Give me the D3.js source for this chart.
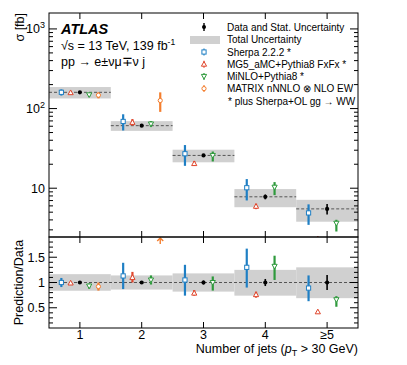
<!DOCTYPE html>
<html>
<head>
<meta charset="utf-8">
<script src="https://cdn.jsdelivr.net/npm/d3@7"></script>
<style>
  body { margin: 0; background: #fff; }
  svg { font-family: "Liberation Sans", Arial, sans-serif; }
</style>
</head>
<body>
<svg width="407" height="365"></svg>
<script>
// bins of jet multiplicity
const bins = [1, 2, 3, 4, 5];
const binLabels = ["1", "2", "3", "4", "≥5"];

// measured cross sections [fb] and stat. uncertainty (relative)
const dataXs = [160, 61, 25.8, 7.8, 5.5];
const dataStat = [0.02, 0.03, 0.04, 0.07, 0.15];

// total uncertainty band (relative to data)
const totHi = [1.165, 1.14, 1.18, 1.25, 1.30];
const totLo = [0.837, 0.86, 0.82, 0.74, 0.69];

// predictions as ratio to data, with up/down errors
const sherpaRatio = [1.00, 1.13, 1.05, 1.30, 0.89];
const sherpaUp = [0.09, 0.26, 0.30, 0.37, 0.25];
const sherpaDn = [0.09, 0.26, 0.31, 0.40, 0.26];

const mgRatio = [0.99, 1.10, 0.79, 0.76, 0.42];
const mgUp = [0.02, 0.11, 0.06, 0.06, 0.02];
const mgDn = [0.02, 0.10, 0.05, 0.06, 0.02];

const minloRatio = [0.93, 1.05, 1.00, 1.32, 0.66];
const minloUp = [0.05, 0.09, 0.12, 0.21, 0.07];
const minloDn = [0.05, 0.09, 0.16, 0.27, 0.14];

const matrixRatio = [0.92, 2.07];
const matrixUp = [0.08, 0.55];
const matrixDn = [0.08, 0.58];

const series = [
  { name: "Sherpa 2.2.2 *", color: "#1f7fc4", shape: "square", off: -0.3, r: sherpaRatio, up: sherpaUp, dn: sherpaDn },
  { name: "MG5_aMC+Pythia8 FxFx *", color: "#e0452b", shape: "tri", off: -0.15, r: mgRatio, up: mgUp, dn: mgDn },
  { name: "MiNLO+Pythia8 *", color: "#2e9a3c", shape: "tridown", off: 0.15, r: minloRatio, up: minloUp, dn: minloDn },
  { name: "MATRIX nNNLO ⊗ NLO EW", color: "#f47e2e", shape: "circle", off: 0.3, r: matrixRatio, up: matrixUp, dn: matrixDn }
];

const svg = d3.select("svg");
const L = 49, R = 358, T = 13, MB = 237, RB = 328;

const x = d3.scaleLinear().domain([0.5, 5.5]).range([L, R]);
const y = d3.scaleLog().domain([2.44, 1585]).range([MB, T]);
const yr = d3.scaleLinear().domain([0.1, 1.9]).range([RB, MB]);

svg.append("clipPath").attr("id", "cm").append("rect")
  .attr("x", L).attr("y", T).attr("width", R - L).attr("height", MB - T);
svg.append("clipPath").attr("id", "cr").append("rect")
  .attr("x", L).attr("y", MB).attr("width", R - L).attr("height", RB - MB);

const gMain = svg.append("g").attr("clip-path", "url(#cm)");
const gRat = svg.append("g").attr("clip-path", "url(#cr)");

// uncertainty bands
gMain.selectAll(".band").data(bins).enter().append("rect")
  .attr("x", d => x(d - 0.5)).attr("width", d => x(d + 0.5) - x(d - 0.5))
  .attr("y", (d, i) => y(dataXs[i] * totHi[i]))
  .attr("height", (d, i) => y(dataXs[i] * totLo[i]) - y(dataXs[i] * totHi[i]))
  .attr("fill", "#d0d0d0");
gMain.selectAll(".dl").data(bins).enter().append("line")
  .attr("x1", d => x(d - 0.5)).attr("x2", d => x(d + 0.5))
  .attr("y1", (d, i) => y(dataXs[i])).attr("y2", (d, i) => y(dataXs[i]))
  .attr("stroke", "#555").attr("stroke-dasharray", "3,2").attr("stroke-width", 1);

gRat.selectAll(".band").data(bins).enter().append("rect")
  .attr("x", d => x(d - 0.5)).attr("width", d => x(d + 0.5) - x(d - 0.5))
  .attr("y", (d, i) => yr(totHi[i]))
  .attr("height", (d, i) => yr(totLo[i]) - yr(totHi[i]))
  .attr("fill", "#d0d0d0");
gRat.append("line").attr("x1", L).attr("x2", R).attr("y1", yr(1)).attr("y2", yr(1))
  .attr("stroke", "#555").attr("stroke-dasharray", "3,2");

function marker(g, shape, cx, cy, color) {
  const s = 2.1;
  if (shape === "square") {
    g.append("rect").attr("x", cx - s).attr("y", cy - s).attr("width", 2 * s).attr("height", 2 * s)
      .attr("fill", "#fff").attr("stroke", color).attr("stroke-width", 1);
  } else if (shape === "circle") {
    g.append("circle").attr("cx", cx).attr("cy", cy).attr("r", s)
      .attr("fill", "#fff").attr("stroke", color).attr("stroke-width", 1);
  } else if (shape === "tri") {
    g.append("path").attr("d", `M${cx},${cy - 2.7}L${cx + 2.6},${cy + 2}L${cx - 2.6},${cy + 2}Z`)
      .attr("fill", "#fff").attr("stroke", color).attr("stroke-width", 1);
  } else if (shape === "tridown") {
    g.append("path").attr("d", `M${cx},${cy + 2.7}L${cx + 2.6},${cy - 2}L${cx - 2.6},${cy - 2}Z`)
      .attr("fill", "#fff").attr("stroke", color).attr("stroke-width", 1);
  }
}

// predictions
series.forEach(s => {
  s.r.forEach((r, i) => {
    const b = bins[i], cx = x(b + s.off);
    const v = dataXs[i];
    // main panel
    gMain.append("line").attr("x1", cx).attr("x2", cx)
      .attr("y1", y(v * (r + s.up[i]))).attr("y2", y(v * (r - s.dn[i])))
      .attr("stroke", s.color).attr("stroke-width", 2.2);
    marker(gMain, s.shape, cx, y(v * r), s.color);
    // ratio panel
    if (r > yr.domain()[1]) {
      const g = gRat.append("g");
      g.append("line").attr("x1", cx).attr("x2", cx).attr("y1", MB + 2).attr("y2", MB + 7)
        .attr("stroke", s.color).attr("stroke-width", 1.4);
      g.append("path").attr("d", `M${cx - 3},${MB + 4}L${cx},${MB + 1}L${cx + 3},${MB + 4}`)
        .attr("fill", "none").attr("stroke", s.color).attr("stroke-width", 1.4);
    } else {
      gRat.append("line").attr("x1", cx).attr("x2", cx)
        .attr("y1", yr(r + s.up[i])).attr("y2", yr(r - s.dn[i]))
        .attr("stroke", s.color).attr("stroke-width", 2.2);
      marker(gRat, s.shape, cx, yr(r), s.color);
    }
  });
});

// data
bins.forEach((b, i) => {
  const v = dataXs[i];
  gMain.append("line").attr("x1", x(b)).attr("x2", x(b))
    .attr("y1", y(v * (1 + dataStat[i]))).attr("y2", y(v * (1 - dataStat[i])))
    .attr("stroke", "#000").attr("stroke-width", 1.6);
  gMain.append("circle").attr("cx", x(b)).attr("cy", y(v)).attr("r", 2.1).attr("fill", "#000");
  gRat.append("line").attr("x1", x(b)).attr("x2", x(b))
    .attr("y1", yr(1 + dataStat[i])).attr("y2", yr(1 - dataStat[i]))
    .attr("stroke", "#000").attr("stroke-width", 1.6);
  gRat.append("circle").attr("cx", x(b)).attr("cy", yr(1)).attr("r", 2.1).attr("fill", "#000");
});

// frames
const ax = svg.append("g").attr("stroke", "#000").attr("fill", "none");
ax.append("rect").attr("x", L).attr("y", T).attr("width", R - L).attr("height", MB - T).attr("stroke-width", 1);
ax.append("rect").attr("x", L).attr("y", MB).attr("width", R - L).attr("height", RB - MB).attr("stroke-width", 1);

// x ticks
bins.forEach(b => {
  const xx = x(b);
  ax.append("line").attr("x1", xx).attr("x2", xx).attr("y1", T).attr("y2", T + 6);
  ax.append("line").attr("x1", xx).attr("x2", xx).attr("y1", MB - 6).attr("y2", MB + 6);
  ax.append("line").attr("x1", xx).attr("x2", xx).attr("y1", RB).attr("y2", RB - 6);
});

// log y ticks main panel
for (let e = 0; e <= 3; e++) {
  for (let m = 1; m <= 9; m++) {
    const v = m * Math.pow(10, e);
    if (v < y.domain()[0] || v > y.domain()[1]) continue;
    const len = m === 1 ? 8 : 4;
    ax.append("line").attr("x1", L).attr("x2", L + len).attr("y1", y(v)).attr("y2", y(v));
    ax.append("line").attr("x1", R).attr("x2", R - len).attr("y1", y(v)).attr("y2", y(v));
  }
}
// ratio ticks
d3.range(2, 19).forEach(k => {
  const v = k / 10;
  const len = (k % 5 === 0) ? 8 : 4;
  ax.append("line").attr("x1", L).attr("x2", L + len).attr("y1", yr(v)).attr("y2", yr(v));
  ax.append("line").attr("x1", R).attr("x2", R - len).attr("y1", yr(v)).attr("y2", yr(v));
});

// tick labels
const lab = svg.append("g").attr("fill", "#000").attr("font-size", 12.5);
[[1000, "3"], [100, "2"]].forEach(([v, ex]) => {
  const t = lab.append("text").attr("x", 45).attr("y", y(v) + 4.5).attr("text-anchor", "end");
  t.append("tspan").text("10");
  t.append("tspan").attr("dy", -5).attr("font-size", 9).text(ex);
});
lab.append("text").attr("x", 45).attr("y", y(10) + 4.5).attr("text-anchor", "end").text("10");
[1.5, 1, 0.5].forEach(v => {
  lab.append("text").attr("x", 45).attr("y", yr(v) + 4.5).attr("text-anchor", "end").text(String(v));
});
bins.forEach((b, i) => {
  lab.append("text").attr("x", x(b)).attr("y", 339).attr("text-anchor", "middle").text(binLabels[i]);
});

// axis titles
lab.append("text").attr("transform", "translate(24,13) rotate(-90)").attr("text-anchor", "end")
  .attr("font-size", 12.5).text("σ [fb]");
lab.append("text").attr("transform", `translate(23,${(MB + RB) / 2}) rotate(-90)`).attr("text-anchor", "middle")
  .attr("font-size", 12.5).text("Prediction/Data");
const xt = lab.append("text").attr("x", R).attr("y", 353).attr("text-anchor", "end").attr("font-size", 12.5);
xt.append("tspan").text("Number of jets (");
xt.append("tspan").attr("font-style", "italic").text("p");
xt.append("tspan").attr("dy", 3).attr("font-size", 9).text("T");
xt.append("tspan").attr("dy", -3).text(" > 30 GeV)");

// ATLAS label
lab.append("text").attr("x", 61).attr("y", 34).attr("font-size", 14.5)
  .attr("font-weight", "bold").attr("font-style", "italic").text("ATLAS");
const t2 = lab.append("text").attr("x", 61).attr("y", 50).attr("font-size", 12.5);
t2.append("tspan").text("√s = 13 TeV, 139 fb");
t2.append("tspan").attr("dy", -5).attr("font-size", 8.5).text("-1");
lab.append("text").attr("x", 61).attr("y", 66).attr("font-size", 12.5).text("pp → e±νμ∓ν j");

// legend
const lg = svg.append("g").attr("font-size", 10);
const lx = 204, tx = 227;
lg.append("line").attr("x1", lx).attr("x2", lx).attr("y1", 23).attr("y2", 31).attr("stroke", "#000").attr("stroke-width", 1.4);
lg.append("circle").attr("cx", lx).attr("cy", 27).attr("r", 2).attr("fill", "#000");
lg.append("text").attr("x", tx).attr("y", 30.5).text("Data and Stat. Uncertainty");
lg.append("rect").attr("x", 190).attr("y", 36).attr("width", 30).attr("height", 8).attr("fill", "#d0d0d0");
lg.append("text").attr("x", tx).attr("y", 43).text("Total Uncertainty");
series.forEach((s, i) => {
  const cy = 52 + i * 12.2;
  lg.append("line").attr("x1", lx).attr("x2", lx).attr("y1", cy - 3.5).attr("y2", cy + 3.5)
    .attr("stroke", s.color).attr("stroke-width", 1.2);
  marker(lg, s.shape, lx, cy, s.color);
  lg.append("text").attr("x", tx).attr("y", cy + 3.5).text(s.name);
});
lg.append("text").attr("x", 228).attr("y", 104.5).text("* plus Sherpa+OL gg → WW");
</script>
</body>
</html>
